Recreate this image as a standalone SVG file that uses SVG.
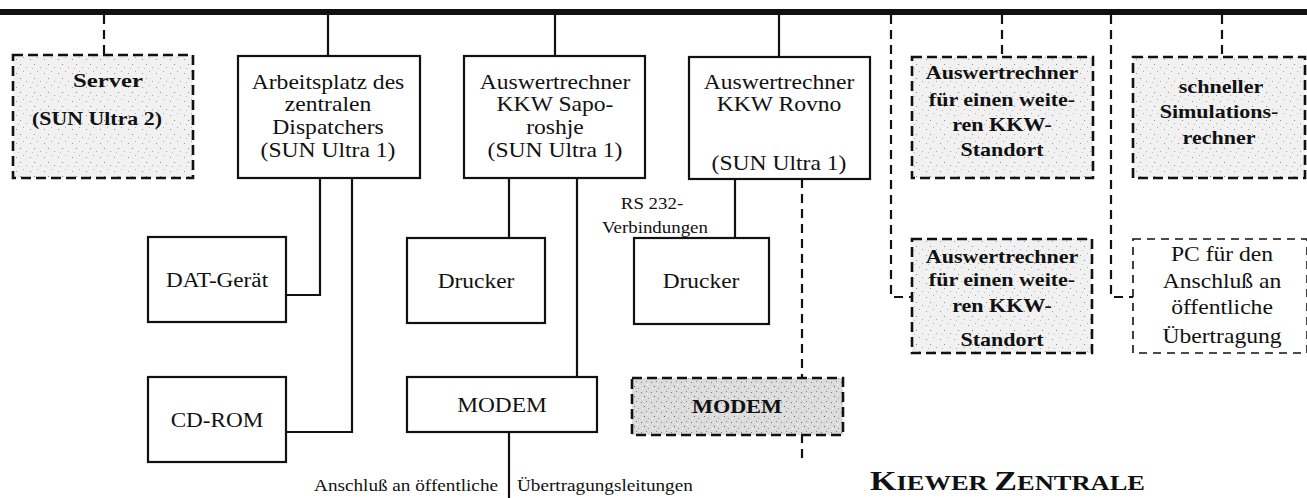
<svg xmlns="http://www.w3.org/2000/svg" width="1307" height="498" viewBox="0 0 1307 498">
<defs>
<pattern id="stip" width="14" height="14" patternUnits="userSpaceOnUse">
<rect width="14" height="14" fill="#f1f1f1"/>
<rect x="2" y="3" width="1" height="1" fill="#9a9a9a"/>
<rect x="9" y="1" width="1" height="1" fill="#b0b0b0"/>
<rect x="6" y="8" width="1" height="1" fill="#8c8c8c"/>
<rect x="12" y="11" width="1" height="1" fill="#a8a8a8"/>
<rect x="4" y="12" width="1" height="1" fill="#bcbcbc"/>
</pattern>
<pattern id="stipd" width="10" height="10" patternUnits="userSpaceOnUse">
<rect width="10" height="10" fill="#dcdcdc"/>
<rect x="1" y="2" width="1" height="1" fill="#777"/>
<rect x="6" y="1" width="1" height="1" fill="#888"/>
<rect x="4" y="6" width="1" height="1" fill="#666"/>
<rect x="8" y="8" width="1" height="1" fill="#999"/>
<rect x="2" y="8" width="1" height="1" fill="#fff"/>
<rect x="7" y="4" width="1" height="1" fill="#fff"/>
</pattern>
</defs>
<style>
.box{fill:#fff;stroke:#111;stroke-width:2.2}
.gbox{fill:url(#stip);stroke:#111;stroke-width:2.6;stroke-dasharray:10 5}
.dbox{fill:url(#stipd);stroke:#111;stroke-width:2.6;stroke-dasharray:10 5}
.pbox{fill:#fff;stroke:#111;stroke-width:1.6;stroke-dasharray:8 6}
.ln{fill:none;stroke:#111;stroke-width:2.2}
.dl{fill:none;stroke:#111;stroke-width:2.2;stroke-dasharray:9 6}
.t{font-family:"Liberation Serif","Times New Roman",serif;font-size:20px;fill:#111;text-anchor:middle}
.b{font-family:"Liberation Serif","Times New Roman",serif;font-size:19px;font-weight:bold;fill:#111;text-anchor:middle}
.s{font-family:"Liberation Serif","Times New Roman",serif;font-size:16px;fill:#111}
</style>
<rect width="1307" height="498" fill="#fff"/>
<g id="connectors">
<line x1="0" y1="12" x2="1307" y2="12" stroke="#111" stroke-width="6"/>
<line class="dl" x1="104" y1="15" x2="104" y2="55"/>
<line class="ln" x1="328" y1="15" x2="328" y2="56"/>
<line class="ln" x1="555" y1="15" x2="555" y2="56"/>
<line class="ln" x1="779" y1="15" x2="779" y2="57"/>
<line class="dl" x1="1002" y1="15" x2="1002" y2="57"/>
<line class="dl" x1="1222" y1="15" x2="1222" y2="57"/>
<polyline class="ln" points="320,178 320,295 286,295"/>
<polyline class="ln" points="352,178 352,432 286,432"/>
<line class="ln" x1="509" y1="178" x2="509" y2="238"/>
<line class="ln" x1="577" y1="178" x2="577" y2="377"/>
<line class="ln" x1="509" y1="432" x2="509" y2="498"/>
<line class="ln" x1="735" y1="179" x2="735" y2="238"/>
<line class="dl" x1="802" y1="179" x2="802" y2="462"/>
<polyline class="dl" points="891,15 891,297 912,297"/>
<polyline class="dl" points="1111,15 1111,297 1133,297"/>
</g>
<g id="server">
<rect class="gbox" x="13" y="55" width="180" height="123"/>
<text class="b" transform="translate(108 87) scale(1.3 1)" font-size="21">Server</text>
<text class="b" transform="translate(97 125) scale(1.15 1)">(SUN Ultra 2)</text>
</g>
<g id="arbeitsplatz">
<rect class="box" x="238" y="56" width="182" height="122"/>
<text class="t" transform="translate(328 89) scale(1.18 1)">Arbeitsplatz des</text>
<text class="t" transform="translate(328 111) scale(1.18 1)">zentralen</text>
<text class="t" transform="translate(328 134) scale(1.18 1)">Dispatchers</text>
<text class="t" transform="translate(328 157) scale(1.18 1)">(SUN Ultra 1)</text>
</g>
<g id="saporoshje">
<rect class="box" x="464" y="56" width="181" height="122"/>
<text class="t" transform="translate(555 89) scale(1.18 1)">Auswertrechner</text>
<text class="t" transform="translate(555 111) scale(1.18 1)">KKW Sapo-</text>
<text class="t" transform="translate(555 134) scale(1.18 1)">roshje</text>
<text class="t" transform="translate(555 157) scale(1.18 1)">(SUN Ultra 1)</text>
</g>
<g id="rovno">
<rect class="box" x="689" y="57" width="181" height="122"/>
<text class="t" transform="translate(779 89) scale(1.18 1)">Auswertrechner</text>
<text class="t" transform="translate(779 111) scale(1.18 1)">KKW Rovno</text>
<text class="t" transform="translate(779 170) scale(1.18 1)">(SUN Ultra 1)</text>
</g>
<g id="auswert-weitere-1">
<rect class="gbox" x="912" y="57" width="181" height="121"/>
<text class="b" transform="translate(1002 79) scale(1.16 1)" font-size="18">Auswertrechner</text>
<text class="b" transform="translate(1002 106) scale(1.16 1)" font-size="18">für einen weite-</text>
<text class="b" transform="translate(1002 131) scale(1.16 1)" font-size="18">ren KKW-</text>
<text class="b" transform="translate(1002 156) scale(1.16 1)" font-size="18">Standort</text>
</g>
<g id="simulationsrechner">
<rect class="gbox" x="1133" y="57" width="172" height="121"/>
<text class="b" transform="translate(1221 93) scale(1.16 1)" font-size="18">schneller</text>
<text class="b" transform="translate(1219 118) scale(1.16 1)" font-size="18">Simulations-</text>
<text class="b" transform="translate(1219 144) scale(1.16 1)" font-size="18">rechner</text>
</g>
<g id="dat">
<rect class="box" x="148" y="237" width="138" height="85"/>
<text class="t" transform="translate(217 287) scale(1.16 1)" font-size="21">DAT-Gerät</text>
</g>
<g id="cdrom">
<rect class="box" x="148" y="377" width="138" height="85"/>
<text class="t" transform="translate(217 427) scale(1.16 1)" font-size="21">CD-ROM</text>
</g>
<g id="drucker1">
<rect class="box" x="407" y="238" width="138" height="85"/>
<text class="t" transform="translate(476 288) scale(1.17 1)" font-size="21">Drucker</text>
</g>
<g id="modem1">
<rect class="box" x="407" y="377" width="190" height="55"/>
<text class="t" transform="translate(502 412) scale(1.17 1)" font-size="21">MODEM</text>
</g>
<g id="drucker2">
<rect class="box" x="634" y="238" width="135" height="86"/>
<text class="t" transform="translate(701 288) scale(1.17 1)" font-size="21">Drucker</text>
</g>
<g id="modem2">
<rect class="dbox" x="632" y="378" width="211" height="57"/>
<text class="b" transform="translate(737 413) scale(1.17 1)" font-size="20">MODEM</text>
</g>
<g id="auswert-weitere-2">
<rect class="gbox" x="912" y="239" width="180" height="114"/>
<text class="b" transform="translate(1002 263) scale(1.16 1)" font-size="18">Auswertrechner</text>
<text class="b" transform="translate(1002 286) scale(1.16 1)" font-size="18">für einen weite-</text>
<text class="b" transform="translate(1002 312) scale(1.16 1)" font-size="18">ren KKW-</text>
<text class="b" transform="translate(1002 346) scale(1.16 1)" font-size="18">Standort</text>
</g>
<g id="pc">
<rect class="pbox" x="1133" y="239" width="174" height="114"/>
<text class="t" transform="translate(1222 261) scale(1.18 1)" font-size="18">PC für den</text>
<text class="t" transform="translate(1222 288) scale(1.18 1)" font-size="18">Anschluß an</text>
<text class="t" transform="translate(1222 314) scale(1.18 1)" font-size="18">öffentliche</text>
<text class="t" transform="translate(1222 343) scale(1.18 1)" font-size="18">Übertragung</text>
</g>
<g id="labels">
<text class="s" text-anchor="middle" transform="translate(652 209) scale(1.18 1)">RS 232-</text>
<text class="s" text-anchor="middle" transform="translate(655 233) scale(1.18 1)">Verbindungen</text>
<text class="s" text-anchor="end" transform="translate(498 491) scale(1.2 1)">Anschluß an öffentliche</text>
<text class="s" text-anchor="start" transform="translate(517 491) scale(1.2 1)">Übertragungsleitungen</text>
<text font-family="'Liberation Serif','Times New Roman',serif" font-weight="bold" fill="#111" x="870" y="490" textLength="275" lengthAdjust="spacingAndGlyphs"><tspan font-size="27">K</tspan><tspan font-size="21">IEWER </tspan><tspan font-size="27">Z</tspan><tspan font-size="21">ENTRALE</tspan></text>
</g>
</svg>
